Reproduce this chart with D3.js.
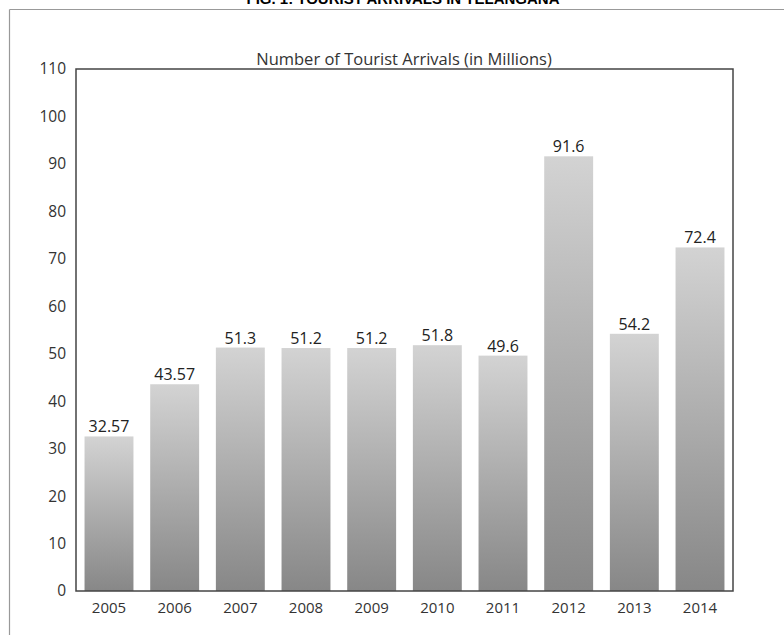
<!DOCTYPE html>
<html><head><meta charset="utf-8">
<script src="https://cdn.jsdelivr.net/npm/d3@7"></script>
<style>body{margin:0;background:#fff;}svg{display:block;}</style>
</head><body>
<svg id="chart" width="784" height="635"></svg>
<script>
const years = ["2005","2006","2007","2008","2009","2010","2011","2012","2013","2014"];
const arrivals = [32.57, 43.57, 51.3, 51.2, 51.2, 51.8, 49.6, 91.6, 54.2, 72.4];
const labels = ["32.57","43.57","51.3","51.2","51.2","51.8","49.6","91.6","54.2","72.4"];
const yTicks = [0,10,20,30,40,50,60,70,80,90,100,110];

const svg = d3.select("#chart");
const m = {left:76, top:69, right:733, bottom:591};
const font = "'Open Sans', sans-serif";

const defs = svg.append("defs");
const g = defs.append("linearGradient").attr("id","barGrad")
  .attr("x1",0).attr("y1",0).attr("x2",0).attr("y2",1);
g.append("stop").attr("offset","0%").attr("stop-color","#d3d3d3");
g.append("stop").attr("offset","100%").attr("stop-color","#878787");

// outer frame
svg.append("line").attr("x1",9.5).attr("x2",784).attr("y1",9.5).attr("y2",9.5).attr("stroke","#999").attr("stroke-width",1.2);
svg.append("line").attr("x1",9.5).attr("x2",9.5).attr("y1",9.5).attr("y2",635).attr("stroke","#999").attr("stroke-width",1.2);

// figure title (cut off at top, as in the source)
svg.append("text").attr("x",403).attr("y",4).attr("text-anchor","middle")
  .attr("font-family","'Liberation Sans', Arial, sans-serif").attr("font-weight","bold")
  .attr("font-size",15).attr("fill","#000").text("FIG. 1: TOURIST ARRIVALS IN TELANGANA");

const x = d3.scaleBand().domain(years).range([m.left, m.right]).paddingInner(0.255).paddingOuter(0.13);
const y = d3.scaleLinear().domain([0,110]).range([m.bottom, m.top]);

// chart title
svg.append("text").attr("x",404).attr("y",64.5).attr("text-anchor","middle")
  .attr("font-family",font).attr("font-size",16.5).attr("font-weight",500).attr("fill","#333")
  .text("Number of Tourist Arrivals (in Millions)");

// bars
svg.append("g").selectAll("rect").data(arrivals).join("rect")
  .attr("x",(d,i)=>x(years[i])).attr("width",x.bandwidth())
  .attr("y",d=>y(d)).attr("height",d=>y(0)-y(d))
  .attr("fill","url(#barGrad)");

// value labels
svg.append("g").selectAll("text").data(arrivals).join("text")
  .attr("x",(d,i)=>x(years[i])+x.bandwidth()/2).attr("y",d=>y(d)-4)
  .attr("text-anchor","middle").attr("font-family",font).attr("font-size",16)
  .attr("fill","#222").text((d,i)=>labels[i]);

// y axis
const yAxis = d3.axisLeft(y).tickValues(yTicks).tickSize(0).tickPadding(10);
const ya = svg.append("g").attr("transform",`translate(${m.left},0)`).call(yAxis);
ya.select(".domain").remove();
ya.selectAll("text").attr("font-family",font).attr("font-size",15.5).attr("fill","#333");

// x axis
const xAxis = d3.axisBottom(x).tickSize(0).tickPadding(11);
const xa = svg.append("g").attr("transform",`translate(0,${m.bottom})`).call(xAxis);
xa.select(".domain").remove();
xa.selectAll("text").attr("font-family",font).attr("font-size",15).attr("fill","#333");

// plot frame
svg.append("rect").attr("x",m.left).attr("y",m.top).attr("width",m.right-m.left).attr("height",m.bottom-m.top)
  .attr("fill","none").attr("stroke","#444").attr("stroke-width",1.5);
</script>
</body></html>
